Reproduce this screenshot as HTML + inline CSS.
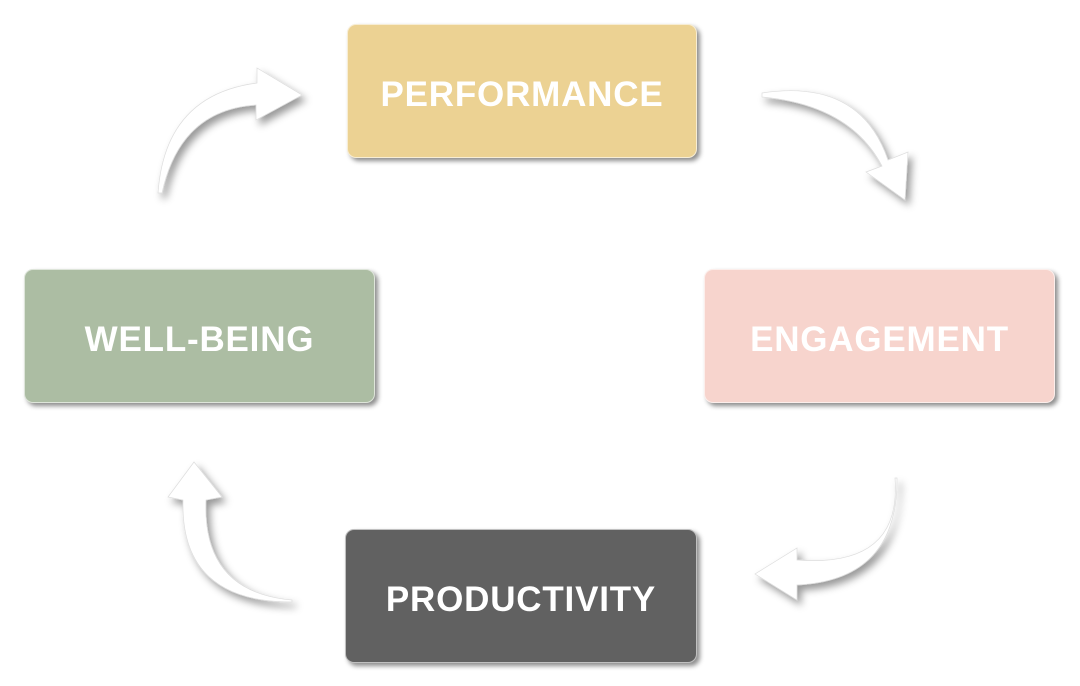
<!DOCTYPE html>
<html><head><style>
body{margin:0;width:1080px;height:686px;background:#fff;position:relative;overflow:hidden;font-family:"Liberation Sans",sans-serif}
.b{position:absolute;border-radius:9px;color:#fff;font-weight:bold;font-size:35px;display:flex;align-items:center;justify-content:center;box-shadow:3px 3px 5px rgba(0,0,0,.45);border:1px solid rgba(255,255,255,.6);box-sizing:border-box;letter-spacing:0.8px;padding-top:8px}
svg{position:absolute;left:0;top:0}
</style></head><body>
<svg width="1080" height="686">
<defs><filter id="s" x="-30%" y="-30%" width="160%" height="160%"><feDropShadow dx="4" dy="5" stdDeviation="4" flood-color="#000" flood-opacity="0.4"/></filter></defs>
<g fill="#fff" stroke="#ddd" stroke-width="0.7" filter="url(#s)">
<path d="M158,193 Q165,95 257,83 L257,68 L302,95 L256,120 L256,105 Q180,110 162,193 Z"/>
<path d="M762,93 Q860,78 888,160 L908,152 L905,200 L866,172 L882,166 Q850,105 762,97 Z"/>
<path d="M895,478 Q902,568 797,560 L797,548 L755,574 L797,600 L797,585 Q898,580 897,478 Z"/>
<path d="M292,600 Q202,592 206,500 L222,497 L194,462 L168,497 L183,500 Q180,602 292,602 Z"/>
</g>
</svg>
<div class="b" style="left:347px;top:24px;width:350px;height:134px;background:#ecd293">PERFORMANCE</div>
<div class="b" style="left:704px;top:269px;width:351px;height:134px;background:#f7d4cd">ENGAGEMENT</div>
<div class="b" style="left:24px;top:269px;width:351px;height:134px;background:#acbda3">WELL-BEING</div>
<div class="b" style="left:345px;top:529px;width:352px;height:134px;background:#616161">PRODUCTIVITY</div>
</body></html>
